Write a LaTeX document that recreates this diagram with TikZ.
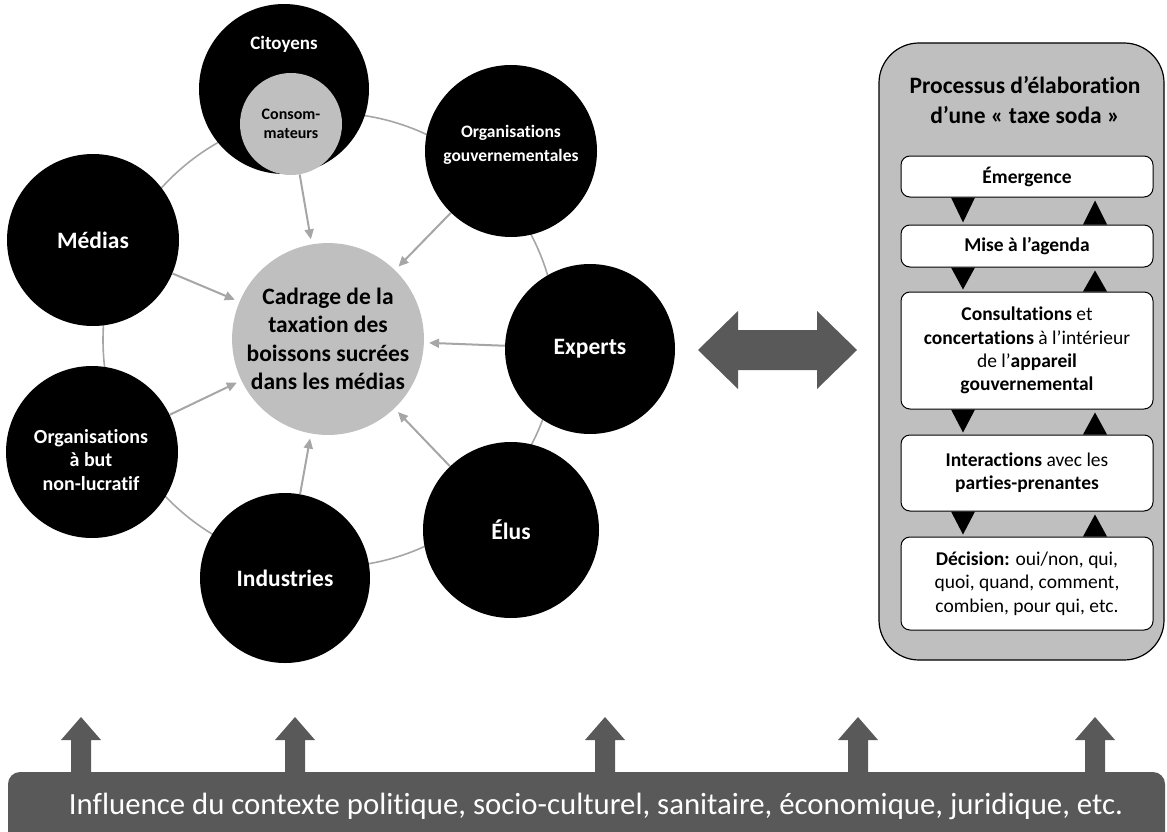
\documentclass[tikz,border=0pt]{standalone}
\usepackage{fontspec}
\setmainfont{Carlito}[Ligatures=NoCommon]
\usetikzlibrary{arrows.meta}
\definecolor{ringgray}{HTML}{A6A6A6}
\definecolor{softgray}{HTML}{BFBFBF}
\definecolor{slate}{HTML}{595959}
\newcommand\fsz[2]{\fontsize{#1}{#2}\selectfont}
\begin{document}
\begin{tikzpicture}[x=1pt,y=-1pt,
  ringline/.style={draw=ringgray, line width=1.6pt, circle, inner sep=0pt, minimum size=454pt},
  actor/.style={circle, fill=black, inner sep=0pt, text=white, align=center, font=\bfseries\fsz{23.5}{28}},
  actortxt/.style={text=white, align=center, inner sep=0pt},
  hub/.style={circle, fill=softgray, inner sep=0pt, align=center, font=\bfseries\fsz{23.5}{28.5}},
  conn/.style={draw=ringgray, line width=2pt, -{Triangle[length=10pt,width=9pt]}, shorten >=5pt},
  stage/.style={draw=black, fill=white, rounded corners=9pt, line width=1pt, minimum width=252pt,
                align=center, font=\fsz{19.5}{23.3}, inner sep=0pt},
  blockarrow/.style={fill=slate}
]
\useasboundingbox (0,0) rectangle (1167,832);

% ---- actors around the framing hub ----
\node[ringline] (ring) at (330,340) {};

\node[hub, minimum size=187pt] (hub) at (328,339)
  {Cadrage de la\\taxation des\\boissons sucrées\\dans les médias};

\node[actor, minimum size=170pt] (cit) at (284,89) {};
\node[actortxt, font=\bfseries\fsz{19}{22}] (citlbl) at (284,44) {Citoyens};
\node[circle, fill=softgray, inner sep=0pt, minimum size=102pt, align=center,
      font=\bfseries\fsz{16}{19}] (cons) at (291,124) {Consom-\\mateurs};

\node[actor, minimum size=172pt] (og) at (511,151) {};
\node[actortxt, font=\bfseries\fsz{17.5}{24}] (oglbl) at (511,145) {Organisations\\gouvernementales};

\node[actor, minimum size=172pt] (med) at (93,240) {Médias};
\node[actor, minimum size=170pt] (exp) at (590,349) {Experts};
\node[actor, minimum size=176pt] (elus) at (511,530) {Élus};
\node[actor, minimum size=170pt] (ind) at (285,578) {Industries};

\node[actor, minimum size=172pt] (obnl) at (92,452) {};
\node[actortxt, font=\bfseries\fsz{20}{23.5}] (obnllbl) at (91,460) {Organisations\\à but\\non-lucratif};

% ---- influences on the framing ----
\draw[conn] (cons) -- (hub);
\draw[conn] (og) -- (hub);
\draw[conn] (med) -- (hub);
\draw[conn] (exp) -- (hub);
\draw[conn] (obnl) -- (hub);
\draw[conn] (ind) -- (hub);
\draw[conn] (elus) -- (hub);

% ---- two-way exchange ----
\fill[blockarrow] (698,350) -- (738,311) -- (738,330) -- (817,330) -- (817,311) -- (857,350)
  -- (817,389) -- (817,370) -- (738,370) -- (738,389) -- cycle;

% ---- policy process panel ----
\node[draw=black, fill=softgray, rounded corners=40pt, line width=1.2pt, inner sep=0pt,
      minimum width=285pt, minimum height=617pt] (panel) at (1021.5,351.5) {};
\node[align=center, font=\bfseries\fsz{23.5}{30}, inner sep=0pt] (ptitle) at (1025,100)
  {Processus d’élaboration\\d’une «~taxe soda~»};

\node[stage, minimum height=41pt, font=\bfseries\fsz{19.5}{23.3}] (em) at (1027,176.5) {Émergence};
\node[stage, minimum height=42pt, font=\bfseries\fsz{19.5}{23.3}] (mise) at (1027,246) {Mise à l’agenda};
\node[stage, minimum height=117pt] (consu) at (1027,350.5)
  {\textbf{Consultations} et\\\textbf{concertations} à l’intérieur\\de l’\textbf{appareil}\\\textbf{gouvernemental}};
\node[stage, minimum height=76pt] (inter) at (1027,473)
  {\textbf{Interactions} avec les\\\textbf{parties-prenantes}};
\node[stage, minimum height=93pt] (dec) at (1027,583.5)
  {\textbf{Décision:} oui/non, qui,\\quoi, quand, comment,\\combien, pour qui, etc.};

\coordinate (dnx) at (963,0);
\coordinate (upx) at (1095,0);
\foreach \a/\b in {em/mise, mise/consu, consu/inter, inter/dec}{
  \fill ([xshift=-12pt]\a.south -| dnx) -- ([xshift=12pt]\a.south -| dnx)
        -- ([yshift=2pt]\b.north -| dnx) -- cycle;
  \fill ([xshift=-12pt]\b.north -| upx) -- ([xshift=12pt]\b.north -| upx)
        -- ([yshift=-3pt]\a.south -| upx) -- cycle;
}

% ---- context band ----
\node[fill=slate, rounded corners=12pt, inner sep=0pt, minimum width=1157pt,
      minimum height=78pt] (ctx) at (586.5,811) {};
\node[text=white, font=\fsz{30.8}{34}, inner sep=0pt] (ctxtxt) at (596,806)
  {Influence du contexte politique, socio-culturel, sanitaire, économique, juridique, etc.};
\foreach \ax in {81,295,605,858,1095}{
  \fill[blockarrow] (\ax-10,773) -- (\ax-10,740) -- (\ax-20,740) -- (\ax,717)
     -- (\ax+20,740) -- (\ax+10,740) -- (\ax+10,773) -- cycle;
}
\end{tikzpicture}
\end{document}
